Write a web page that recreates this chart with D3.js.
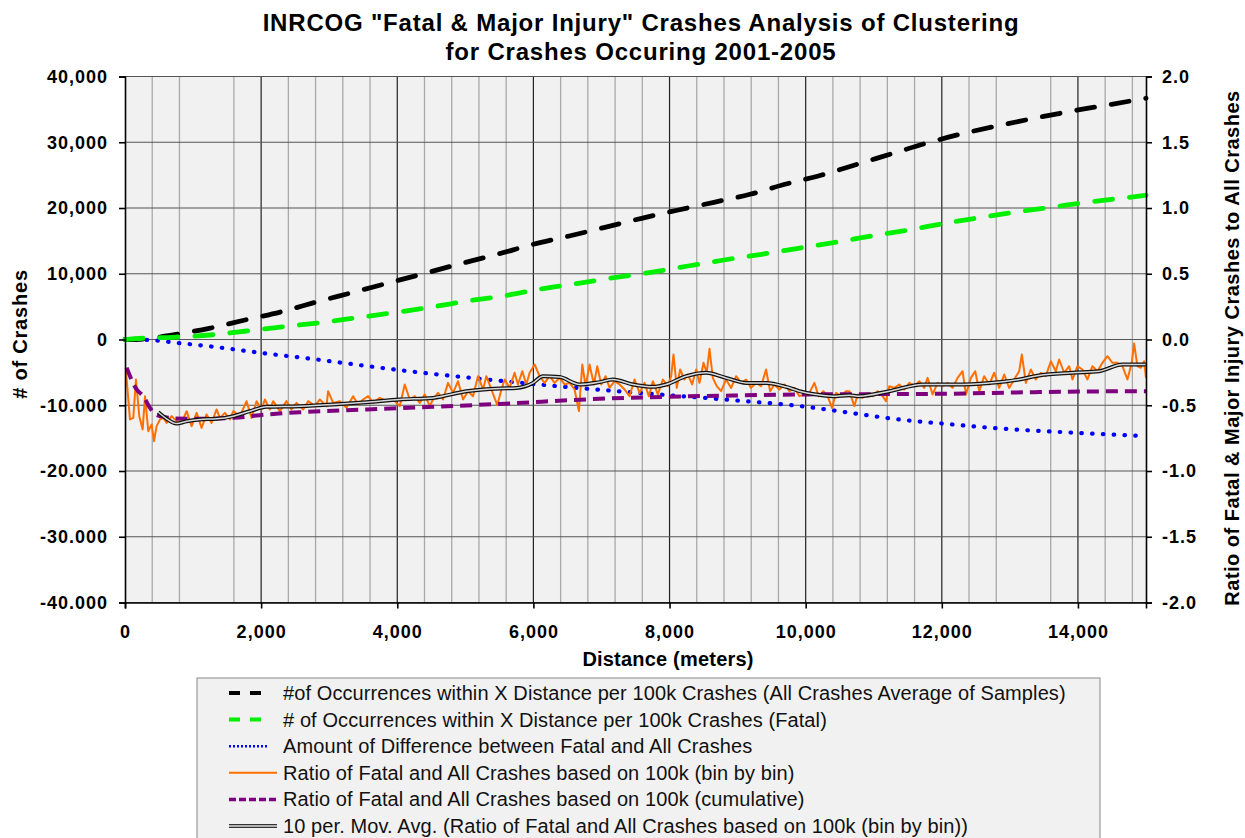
<!DOCTYPE html>
<html><head><meta charset="utf-8">
<script src="https://cdn.jsdelivr.net/npm/d3@7"></script>
<style>
html,body{margin:0;padding:0;background:#fff;}
svg{display:block;font-family:"Liberation Sans",Arial,sans-serif;}
</style></head>
<body><svg id="c" width="1245" height="838"></svg>
<script>
// ---------- data ----------
const titleLines = ['INRCOG "Fatal & Major Injury" Crashes Analysis of Clustering', 'for Crashes Occuring 2001-2005'];
const xTicks = [0, 2000, 4000, 6000, 8000, 10000, 12000, 14000];
const xTickLabels = ["0", "2,000", "4,000", "6,000", "8,000", "10,000", "12,000", "14,000"];
const leftTicks = [-40000, -30000, -20000, -10000, 0, 10000, 20000, 30000, 40000];
const leftTickLabels = ["-40.000", "-30.000", "-20.000", "-10.000", "0", "10,000", "20,000", "30,000", "40,000"];
const rightTicks = [-2, -1.5, -1, -0.5, 0, 0.5, 1, 1.5, 2];
const rightTickLabels = ["-2.0", "-1.5", "-1.0", "-0.5", "0.0", "0.5", "1.0", "1.5", "2.0"];

// # of occurrences, all crashes (left axis)
const blackX = [0, 300, 686, 1238, 1763, 2302, 2825, 3354, 3883, 4407, 4946, 5469, 5998, 6527, 7051, 7590, 8128, 8653, 9182, 9696, 10235, 10758, 11287, 11801, 12326, 12880, 13402, 13942, 14495, 15000];
const blackY = [0, 100, 684, 1700, 2966, 4228, 5750, 7179, 8639, 10068, 11580, 12958, 14479, 15741, 17065, 18433, 19696, 20867, 22084, 23605, 25019, 26646, 28319, 29932, 31361, 32624, 33734, 34799, 35772, 36700];
// # of occurrences, fatal (left axis)
const greenX = [0, 147, 686, 1249, 1788, 2326, 2865, 3404, 3942, 4481, 5030, 5582, 6107, 6659, 7184, 7727, 8275, 8800, 9354, 9891, 10431, 10970, 11508, 12046, 12586, 13124, 13663, 14202, 14754, 15000];
const greenY = [0, 120, 335, 684, 1293, 1947, 2555, 3316, 4076, 4897, 5856, 6662, 7681, 8548, 9399, 10221, 11179, 12091, 12958, 13871, 14783, 15741, 16654, 17673, 18586, 19437, 20198, 20958, 21627, 21950];
// difference (left axis)
const blueX = [0, 360, 820, 1290, 1750, 2210, 2680, 3060, 3550, 4040, 5030, 6070, 7470, 8940, 9930, 10620, 11250, 12000, 12870, 14190, 15000];
const blueY = [0, -80, -580, -1090, -1700, -2310, -2860, -3370, -4030, -4670, -5780, -6840, -8060, -9230, -10140, -11100, -12020, -12780, -13540, -14300, -14700];
// ratio bin by bin (right axis)
const orangeX = [10,73,122,161,210,259,294,342,391,426,465,514,563,612,685,758,832,905,979,1052,1125,1199,1272,1345,1394,1468,1541,1590,1688,1786,1859,1933,2006,2055,2128,2177,2275,2373,2446,2520,2618,2691,2789,2862,2960,2984,3058,3156,3254,3351,3425,3498,3572,3645,3743,3841,3939,4036,4110,4183,4257,4330,4403,4477,4526,4599,4672,4746,4819,4893,4966,5039,5113,5186,5260,5309,5382,5470,
5530,5578,5651,5724,5773,5837,5896,5945,6018,6091,6165,6238,6312,6385,6458,6532,6605,6669,6718,6767,6825,6889,6938,6997,7060,7119,7192,7266,7339,7412,7486,7559,7633,7696,7755,7828,7902,7975,8024,8058,8107,8156,8220,8269,8332,8391,8440,8499,8547,8587,8636,8694,8758,8831,8905,8978,9051,9125,9198,9272,9345,9418,9477,9541,9614,9687,9761,9834,9908,9981,10054,10128,10191,10260,10323,10387,10446,10519,10593,
10642,10715,10764,10837,10911,10984,11057,11131,11180,11229,11302,11375,11449,11522,11596,11669,11742,11791,11865,11938,12012,12085,12158,12232,12305,12354,12427,12491,12550,12623,12696,12770,12843,12917,12990,13063,13137,13176,13235,13308,13381,13455,13528,13602,13675,13724,13797,13871,13920,13993,14066,14140,14213,14287,14360,14433,14507,14580,14654,14727,14791,14825,14874,14923,14972,15000];
const orangeY = [-0.215,-0.608,-0.596,-0.304,-0.583,-0.684,-0.431,-0.697,-0.646,-0.773,-0.659,-0.608,-0.596,-0.634,-0.583,-0.621,-0.634,-0.545,-0.659,-0.558,-0.672,-0.570,-0.634,-0.532,-0.596,-0.558,-0.608,-0.545,-0.583,-0.469,-0.596,-0.469,-0.532,-0.456,-0.532,-0.469,-0.545,-0.469,-0.532,-0.482,-0.532,-0.469,-0.507,-0.456,-0.507,-0.393,-0.482,-0.469,-0.520,-0.431,-0.494,-0.456,-0.431,-0.482,-0.444,-0.469,-0.456,-0.507,-0.342,-0.456,-0.431,-0.482,-0.418,-0.507,-0.456,-0.406,-0.456,-0.330,-0.406,-0.317,-0.456,-0.393,-0.431,-0.279,-0.380,-0.279,-0.380,-0.500,
-0.380,-0.304,-0.368,-0.253,-0.342,-0.241,-0.342,-0.253,-0.190,-0.279,-0.330,-0.279,-0.330,-0.292,-0.342,-0.330,-0.380,-0.545,-0.190,-0.355,-0.190,-0.342,-0.203,-0.342,-0.279,-0.368,-0.317,-0.342,-0.380,-0.431,-0.304,-0.406,-0.330,-0.431,-0.317,-0.418,-0.304,-0.355,-0.279,-0.114,-0.368,-0.228,-0.304,-0.266,-0.342,-0.228,-0.330,-0.177,-0.253,-0.071,-0.292,-0.355,-0.393,-0.304,-0.368,-0.279,-0.330,-0.304,-0.368,-0.330,-0.355,-0.228,-0.393,-0.342,-0.380,-0.342,-0.393,-0.368,-0.431,-0.418,-0.406,-0.330,-0.431,-0.393,-0.431,-0.520,-0.406,-0.431,-0.393,
-0.393,-0.507,-0.418,-0.444,-0.406,-0.431,-0.393,-0.431,-0.469,-0.355,-0.368,-0.342,-0.380,-0.330,-0.355,-0.317,-0.368,-0.292,-0.418,-0.330,-0.355,-0.330,-0.368,-0.292,-0.241,-0.418,-0.292,-0.241,-0.393,-0.279,-0.342,-0.253,-0.368,-0.266,-0.368,-0.304,-0.241,-0.114,-0.330,-0.228,-0.304,-0.253,-0.279,-0.165,-0.241,-0.152,-0.253,-0.203,-0.304,-0.203,-0.228,-0.304,-0.203,-0.241,-0.177,-0.127,-0.177,-0.177,-0.203,-0.304,-0.177,-0.030,-0.203,-0.215,-0.165,-0.292];
// ratio cumulative (right axis)
const purpleX = [24, 171, 269, 367, 465, 612, 709, 1101, 1590, 2079, 2569, 3547, 4526, 5504, 6972, 7951, 8929, 9908, 11963, 13430, 14898, 15000];
const purpleY = [-0.215, -0.380, -0.431, -0.520, -0.575, -0.592, -0.601, -0.603, -0.596, -0.570, -0.553, -0.532, -0.512, -0.490, -0.451, -0.436, -0.426, -0.418, -0.413, -0.400, -0.393, -0.393];
// 10 per. moving average (right axis)
const maX = [489, 612, 758, 905, 1101, 1345, 1590, 1835, 2079, 2569, 3058, 3547, 4036, 4526, 5015, 5504, 5749, 5994, 6140, 6385, 6678, 6972, 7168, 7461, 7755, 7951, 8244, 8538, 8831, 9125, 9418, 9712, 9908, 10152, 10397, 10642, 10788, 11229, 11718, 12207, 12696, 13137, 13430, 13920, 14311, 14654, 14996];
const maY = [-0.553, -0.603, -0.639, -0.621, -0.608, -0.603, -0.583, -0.545, -0.512, -0.507, -0.494, -0.477, -0.456, -0.444, -0.393, -0.372, -0.368, -0.330, -0.279, -0.286, -0.342, -0.324, -0.304, -0.342, -0.360, -0.342, -0.279, -0.253, -0.292, -0.330, -0.330, -0.360, -0.393, -0.418, -0.431, -0.423, -0.431, -0.393, -0.342, -0.342, -0.330, -0.304, -0.274, -0.253, -0.241, -0.190, -0.190];

const legendLabels = [
  "#of Occurrences within X Distance per 100k Crashes (All Crashes Average of Samples)",
  "# of Occurrences within X Distance per 100k Crashes (Fatal)",
  "Amount of Difference between Fatal and All Crashes",
  "Ratio of Fatal and All Crashes based on 100k (bin by bin)",
  "Ratio of Fatal and All Crashes based on 100k (cumulative)",
  "10 per. Mov. Avg. (Ratio of Fatal and All Crashes based on 100k (bin by bin))"
];

// ---------- layout ----------
const L = 125, R = 1146, T = 76.5, B = 602.5;
const svg = d3.select("#c");
const x = d3.scaleLinear().domain([0, 15000]).range([L, R]);
const yL = d3.scaleLinear().domain([-40000, 40000]).range([B, T]);
const yR = d3.scaleLinear().domain([-2, 2]).range([B, T]);

svg.append("rect").attr("width", 1245).attr("height", 838).attr("fill", "#fff");
svg.append("rect").attr("x", L).attr("y", T).attr("width", R - L).attr("height", B - T).attr("fill", "#f1f1f1");

// minor vertical grid
const minor = d3.range(400, 15000, 400).filter(v => v % 2000 !== 0 && v !== 1200 && v !== 13200);
svg.append("g").selectAll("line").data(minor).join("line")
  .attr("x1", d => x(d)).attr("x2", d => x(d)).attr("y1", T).attr("y2", B)
  .attr("stroke", "#a9a9a9").attr("stroke-width", 1.3);
svg.append("g").selectAll("line").data(xTicks.filter(d => d > 0)).join("line")
  .attr("x1", d => x(d)).attr("x2", d => x(d)).attr("y1", T).attr("y2", B)
  .attr("stroke", "#222").attr("stroke-width", 1.2);
svg.append("g").selectAll("line").data(leftTicks).join("line")
  .attr("x1", L).attr("x2", R).attr("y1", d => yL(d)).attr("y2", d => yL(d))
  .attr("stroke", "#555").attr("stroke-width", 1.2);

// series
function pts(xs, ys) { return xs.map((v, i) => [v, ys[i]]); }
const lineL = d3.line().x(d => x(d[0])).y(d => yL(d[1])).curve(d3.curveMonotoneX);
const lineR = d3.line().x(d => x(d[0])).y(d => yR(d[1])).curve(d3.curveMonotoneX);
const lineRlin = d3.line().x(d => x(d[0])).y(d => yR(d[1]));

const styles = {
  black: {stroke: "#000", w: 4.8, dash: "18,17", cap: "round"},
  green: {stroke: "#00f000", w: 4.8, dash: "18,17", cap: "round"},
  blue: {stroke: "#0000ff", w: 4.2, dash: "0.5,10.3", cap: "round"},
  orange: {stroke: "#ff6f00", w: 2, dash: null, cap: "butt"},
  purple: {stroke: "#7f007f", w: 4, dash: "12,7", cap: "butt"}
};
function draw(g, d, line, s) {
  g.append("path").attr("d", line(d)).attr("fill", "none").attr("stroke", s.stroke)
    .attr("stroke-width", s.w).attr("stroke-dasharray", s.dash).attr("stroke-linecap", s.cap)
    .attr("stroke-linejoin", "round");
}
const gs = svg.append("g");
draw(gs, pts(blueX, blueY), lineL, styles.blue);
draw(gs, pts(orangeX, orangeY), lineRlin, styles.orange);
draw(gs, pts(purpleX, purpleY), lineR, styles.purple);
gs.append("path").attr("d", lineR(pts(maX, maY))).attr("fill", "none").attr("stroke", "#111").attr("stroke-width", 4);
gs.append("path").attr("d", lineR(pts(maX, maY))).attr("fill", "none").attr("stroke", "#d8d8d8").attr("stroke-width", 1.5);
draw(gs, pts(blackX, blackY), lineL, styles.black);
draw(gs, pts(greenX, greenY), lineL, styles.green);

// axes
const fontTick = g => g.selectAll("text").attr("font-size", 18).attr("font-weight", "bold").attr("fill", "#000")
  .attr("letter-spacing", "1px").attr("font-family", '"Liberation Sans",Arial,sans-serif');
const axL = svg.append("g").attr("transform", `translate(${L},0)`)
  .call(d3.axisLeft(yL).tickValues(leftTicks).tickFormat((d, i) => leftTickLabels[i]).tickSize(6).tickPadding(11));
axL.call(fontTick);
const axR = svg.append("g").attr("transform", `translate(${R},0)`)
  .call(d3.axisRight(yR).tickValues(rightTicks).tickFormat((d, i) => rightTickLabels[i]).tickSize(6).tickPadding(10));
axR.call(fontTick);
const axB = svg.append("g").attr("transform", `translate(0,${B})`)
  .call(d3.axisBottom(x).tickValues(xTicks).tickFormat((d, i) => xTickLabels[i]).tickSize(6).tickPadding(17));
axB.call(fontTick);
[axL, axR, axB].forEach(a => { a.selectAll("path.domain").attr("stroke", "#000").attr("stroke-width", 1.6); a.selectAll("line").attr("stroke", "#000").attr("stroke-width", 1.6); });

// titles
svg.append("g").selectAll("text").data(titleLines).join("text")
  .attr("x", 641).attr("y", (d, i) => 31 + i * 29).attr("text-anchor", "middle")
  .attr("font-size", 24).attr("font-weight", "bold").attr("letter-spacing", "0.8px").text(d => d);
svg.append("text").attr("x", 668).attr("y", 666).attr("text-anchor", "middle")
  .attr("font-size", 20).attr("font-weight", "bold").attr("letter-spacing", "0.2px").text("Distance (meters)");
svg.append("text").attr("transform", "translate(27,334) rotate(-90)").attr("text-anchor", "middle")
  .attr("font-size", 20).attr("font-weight", "bold").attr("letter-spacing", "0.8px").text("# of Crashes");
svg.append("text").attr("transform", "translate(1239,348) rotate(-90)").attr("text-anchor", "middle")
  .attr("font-size", 20).attr("font-weight", "bold").attr("letter-spacing", "0.5px").text("Ratio of Fatal & Major Injury Crashes to All Crashes");

// legend
const lg = svg.append("g");
lg.append("rect").attr("x", 197).attr("y", 678).attr("width", 903).attr("height", 170)
  .attr("fill", "#f1f1f1").attr("stroke", "#888").attr("stroke-width", 1);
const legendStyles = [styles.black, styles.green, styles.blue, styles.orange, styles.purple, null];
legendLabels.forEach((lab, i) => {
  const yy = 693 + i * 26.6;
  const s = legendStyles[i];
  if (s) {
    const x2 = (i <= 2) ? 268 : 277;
    const dash = i <= 1 ? "11,10" : s.dash;
    const w = i === 2 ? 2.5 : (i === 3 ? 2 : (i === 4 ? 3.5 : 4));
    lg.append("line").attr("x1", 229).attr("x2", x2).attr("y1", yy).attr("y2", yy)
      .attr("stroke", s.stroke).attr("stroke-width", w).attr("stroke-dasharray", i === 2 ? "2,2" : (i === 4 ? "7,3" : dash))
      .attr("stroke-linecap", "butt");
  } else {
    lg.append("line").attr("x1", 229).attr("x2", 277).attr("y1", yy).attr("y2", yy).attr("stroke", "#333").attr("stroke-width", 4);
    lg.append("line").attr("x1", 229).attr("x2", 277).attr("y1", yy).attr("y2", yy).attr("stroke", "#ddd").attr("stroke-width", 1.5);
  }
  lg.append("text").attr("x", 283).attr("y", yy + 7).attr("font-size", 20).attr("fill", "#111")
    .attr("letter-spacing", "0.1px").text(lab);
});
</script></body></html>
